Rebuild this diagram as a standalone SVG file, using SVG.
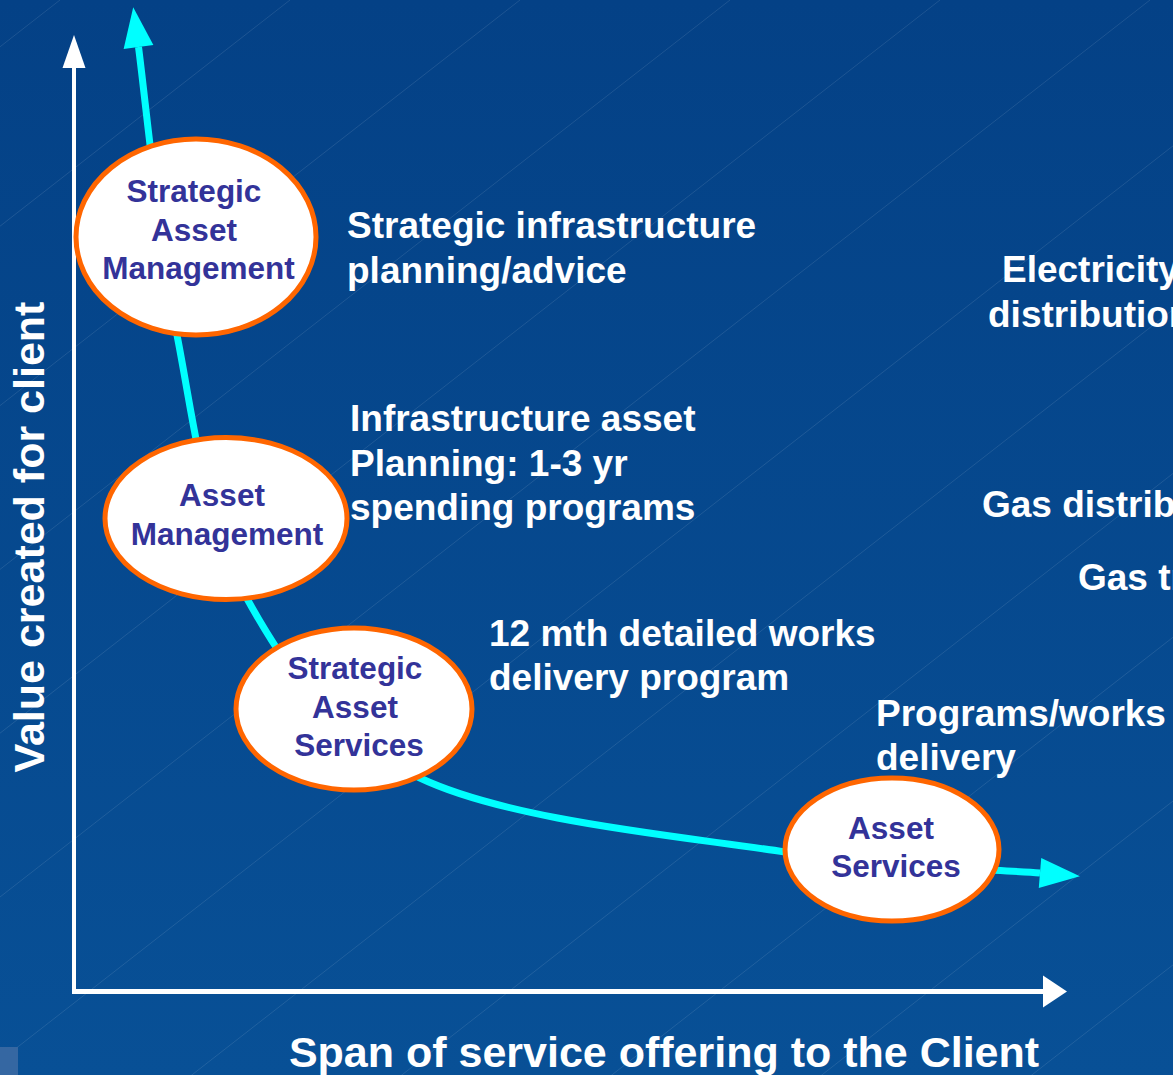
<svg xmlns="http://www.w3.org/2000/svg" width="1173" height="1075" viewBox="0 0 1173 1075">
  <defs>
    <linearGradient id="bg" x1="0" y1="0" x2="0" y2="1">
      <stop offset="0" stop-color="#044186"/>
      <stop offset="1" stop-color="#085096"/>
    </linearGradient>
    <marker id="cyan-head" markerUnits="userSpaceOnUse" markerWidth="40" markerHeight="30" refX="0" refY="15" orient="auto-start-reverse" overflow="visible">
      <path d="M0,0 L40,15 L0,30 Z" fill="#00ffff"/>
    </marker>
    <style>
      .hatch line { stroke: #ffffff; stroke-opacity: 0.15; stroke-width: 0.7; }
      .axis { stroke: #ffffff; fill: none; }
      .axis-head { fill: #ffffff; }
      .curve { stroke: #00ffff; stroke-width: 7; fill: none; }
      .bubble ellipse { fill: #ffffff; stroke: #ff6600; stroke-width: 5; }
      .bubble text { font-family: "Liberation Sans", Arial, sans-serif; font-weight: bold; font-size: 31.5px; fill: #333399; text-anchor: middle; }
      .note { font-family: "Liberation Sans", Arial, sans-serif; font-weight: bold; font-size: 37px; fill: #ffffff; }
      .axis-label { font-family: "Liberation Sans", Arial, sans-serif; font-weight: bold; font-size: 43px; fill: #ffffff; text-anchor: middle; }
    </style>
  </defs>

  <!-- background with faint diagonal hatching -->
  <rect x="0" y="0" width="1173" height="1075" fill="url(#bg)"/>
  <g class="hatch">
    <line x1="60" y1="0" x2="-1340" y2="1092"/>
    <line x1="290" y1="0" x2="-1110" y2="1092"/>
    <line x1="520" y1="0" x2="-880" y2="1092"/>
    <line x1="730" y1="0" x2="-670" y2="1092"/>
    <line x1="940" y1="0" x2="-460" y2="1092"/>
    <line x1="1150" y1="0" x2="-250" y2="1092"/>
    <line x1="1360" y1="0" x2="-40" y2="1092"/>
    <line x1="1570" y1="0" x2="170" y2="1092"/>
    <line x1="1780" y1="0" x2="380" y2="1092"/>
    <line x1="1990" y1="0" x2="590" y2="1092"/>
    <line x1="2200" y1="0" x2="800" y2="1092"/>
    <line x1="2410" y1="0" x2="1010" y2="1092"/>
    <line x1="2620" y1="0" x2="1220" y2="1092"/>
  </g>
  <rect x="0" y="1047" width="18" height="28" fill="#3567a2"/>

  <!-- axes -->
  <g id="axes">
    <line class="axis" x1="74" y1="66" x2="74" y2="994" stroke-width="4"/>
    <polygon class="axis-head" points="74,35 85.5,68 62.5,68"/>
    <line class="axis" x1="72" y1="991.5" x2="1045" y2="991.5" stroke-width="5"/>
    <polygon class="axis-head" points="1067,991.5 1043,975.5 1043,1007.5"/>
    <text class="axis-label" transform="translate(44,537) rotate(-90)">Value created for client</text>
    <text class="axis-label" x="664" y="1067">Span of service offering to the Client</text>
  </g>

  <!-- value curve -->
  <g id="connectors">
    <path class="curve" marker-start="url(#cyan-head)" marker-end="url(#cyan-head)"
      d="M138.5,47 C144.9,95 159.3,243.7 177,335 C194.75,426.3 204.5,521.2 245,595 C285.5,668.8 330,735.2 420,778 C510,820.8 681.7,836.2 785,852 C888.3,867.8 997.5,869.5 1040,873"/>
  </g>

  <!-- service levels -->
  <g id="node-strategic-asset-management" class="bubble">
    <ellipse cx="196" cy="237" rx="120" ry="98"/>
    <text x="194" y="202">Strategic</text>
    <text x="194" y="241">Asset</text>
    <text x="198.5" y="279">Management</text>
  </g>
  <g id="node-asset-management" class="bubble">
    <ellipse cx="226" cy="518.5" rx="121" ry="81"/>
    <text x="222" y="506">Asset</text>
    <text x="227" y="545">Management</text>
  </g>
  <g id="node-strategic-asset-services" class="bubble">
    <ellipse cx="354" cy="709" rx="118" ry="81"/>
    <text x="355" y="679">Strategic</text>
    <text x="355" y="718">Asset</text>
    <text x="359" y="756">Services</text>
  </g>
  <g id="node-asset-services" class="bubble">
    <ellipse cx="892" cy="849.5" rx="107" ry="71.5"/>
    <text x="891" y="839">Asset</text>
    <text x="896" y="877">Services</text>
  </g>

  <!-- descriptions -->
  <g id="notes">
    <text class="note" x="347" y="238">Strategic infrastructure</text>
    <text class="note" x="347" y="283">planning/advice</text>
    <text class="note" x="350" y="431">Infrastructure asset</text>
    <text class="note" x="350" y="476">Planning: 1-3 yr</text>
    <text class="note" x="350" y="520">spending programs</text>
    <text class="note" x="489" y="646">12 mth detailed works</text>
    <text class="note" x="489" y="690">delivery program</text>
    <text class="note" x="876" y="726">Programs/works</text>
    <text class="note" x="876" y="770">delivery</text>
    <text class="note" x="1002" y="282">Electricity</text>
    <text class="note" x="988" y="327">distribution</text>
    <text class="note" x="982" y="517">Gas distrib</text>
    <text class="note" x="1078" y="590">Gas tr</text>
  </g>
</svg>
